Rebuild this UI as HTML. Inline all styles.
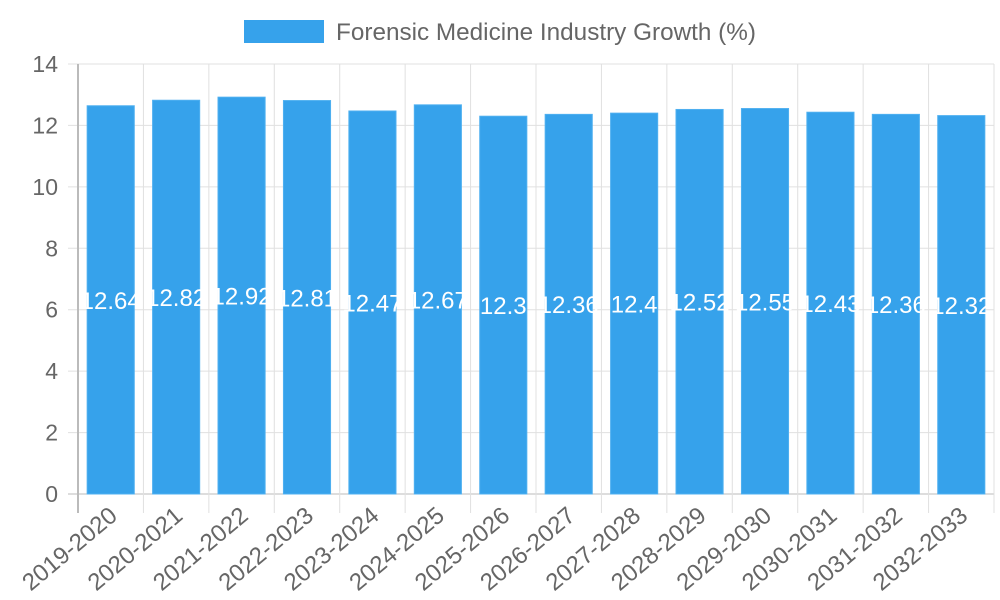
<!DOCTYPE html>
<html><head><meta charset="utf-8"><style>
html,body{margin:0;padding:0;background:#fff;width:1000px;height:600px;overflow:hidden}
svg{display:block;font-family:"Liberation Sans",sans-serif}
</style></head><body>
<svg id="chart" width="1000" height="600">
<g id="legend">
<rect x="244" y="20" width="80" height="23" fill="#36a2eb"/>
<text x="336" y="40" font-size="24.3" fill="#666">Forensic Medicine Industry Growth (%)</text>
</g>
<g id="grid"></g><g id="bars"></g><g id="axes"></g>
</svg>
<script>
const categories=["2019-2020","2020-2021","2021-2022","2022-2023","2023-2024","2024-2025","2025-2026","2026-2027","2027-2028","2028-2029","2029-2030","2030-2031","2031-2032","2032-2033"];
const values=[12.64,12.82,12.92,12.81,12.47,12.67,12.3,12.36,12.4,12.52,12.55,12.43,12.36,12.32];
const yTicks=[0,2,4,6,8,10,12,14];
const NS="http://www.w3.org/2000/svg";
const L=78,R=994,T=64,B=494,yMax=14;
const y=v=>B-(v/yMax)*(B-T);
const bw=(R-L)/categories.length;
const x=i=>L+i*bw;
function mk(tag,attrs,parent){const e=document.createElementNS(NS,tag);for(const k in attrs)e.setAttribute(k,attrs[k]);document.getElementById(parent).appendChild(e);return e;}
yTicks.forEach(t=>{
 const g=mk('line',{x1:L-10,x2:R,y1:y(t),y2:y(t),stroke:t===0?'#bbb':'#e0e0e0','stroke-width':1},'grid');
 
 
 const tx=mk('text',{x:L-20,y:y(t)+8,'text-anchor':'end','font-size':23,fill:'#666'},'axes');
 tx.textContent=t;
 
 
});
for(let i=0;i<=categories.length;i++){
 const g=mk('line',{x1:x(i),x2:x(i),y1:T,y2:B+19,stroke:i===0?'#bbb':'#e0e0e0','stroke-width':i===0?2:1},'grid');
 
 
}
categories.forEach((c,i)=>{
 const cx=x(i)+bw/2, w=bw*0.72;
 const r=mk('rect',{x:cx-w/2,y:y(values[i]),width:w,height:B-y(values[i]),fill:'#36a2eb',stroke:'#4fb0f0','stroke-width':1},'bars');
 
 
 const lb=mk('text',{x:cx,y:(y(values[i])+B)/2+9,'text-anchor':'middle','font-size':24,fill:'#fff'},'bars');
 lb.textContent=values[i];
 
 
 const xl=mk('text',{transform:`translate(${cx+8},${B+24}) rotate(-40)`,'text-anchor':'end','font-size':24,fill:'#666'},'axes');
 xl.textContent=c;
 
 
});
</script>
</body></html>
